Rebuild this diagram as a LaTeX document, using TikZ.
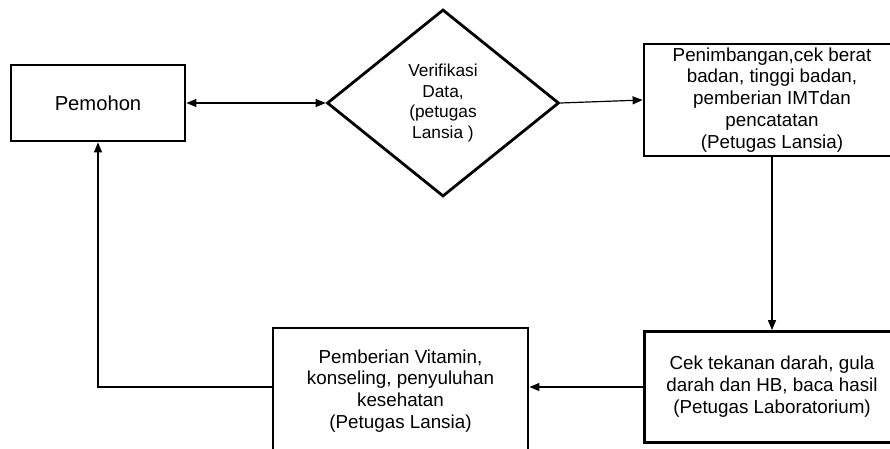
\documentclass[tikz,border=0pt]{standalone}
\usepackage{fontspec}
\setmainfont{Liberation Sans}
\usetikzlibrary{arrows.meta,shapes.geometric}

\begin{document}
\begin{tikzpicture}[x=1pt,y=-1pt,
    box/.style={draw, line width=2.8pt, rectangle, inner sep=0pt, align=center, font=\fontsize{18.8}{21.9}\selectfont},
    decision/.style={draw, line width=2.8pt, diamond, inner sep=0pt, align=center, font=\fontsize{17.3}{20.6}\selectfont},
    flow/.style={line width=1.2pt, -{Triangle[length=10pt,width=8pt]}}]
  \useasboundingbox (0,0) rectangle (890,449);

  \node [box, minimum width=174pt, minimum height=76pt, font=\fontsize{20.2}{24}\selectfont] (pemohon) at (98,103) {Pemohon};
  \node [decision, minimum width=232pt, minimum height=187pt] (verifikasi) at (443,103) {Verifikasi\\Data,\\(petugas\\Lansia )};
  \node [box, minimum width=256pt, minimum height=112pt] (timbang) at (772,100) {Penimbangan,cek berat\\badan, tinggi badan,\\pemberian IMTdan\\pencatatan\\(Petugas Lansia)};
  \node [box, minimum width=255pt, minimum height=111pt] (lab) at (772,387) {Cek tekanan darah, gula\\darah dan HB, baca hasil\\(Petugas Laboratorium)};
  \node [box, minimum width=255pt, minimum height=126pt] (vitamin) at (400.5,391) {Pemberian Vitamin,\\konseling, penyuluhan\\kesehatan\\(Petugas Lansia)};

  \draw [flow, {Triangle[length=10pt,width=8pt]}-{Triangle[length=10pt,width=8pt]}] (pemohon) -- (verifikasi);
  \draw [flow] (verifikasi.east) -- (timbang.west);
  \draw [flow] (timbang) -- (lab);
  \draw [flow] (lab.west) -- (lab.west -| vitamin.east);
  \draw [flow] (vitamin.west |- lab.west) -| (pemohon.south);

\end{tikzpicture}
\end{document}
